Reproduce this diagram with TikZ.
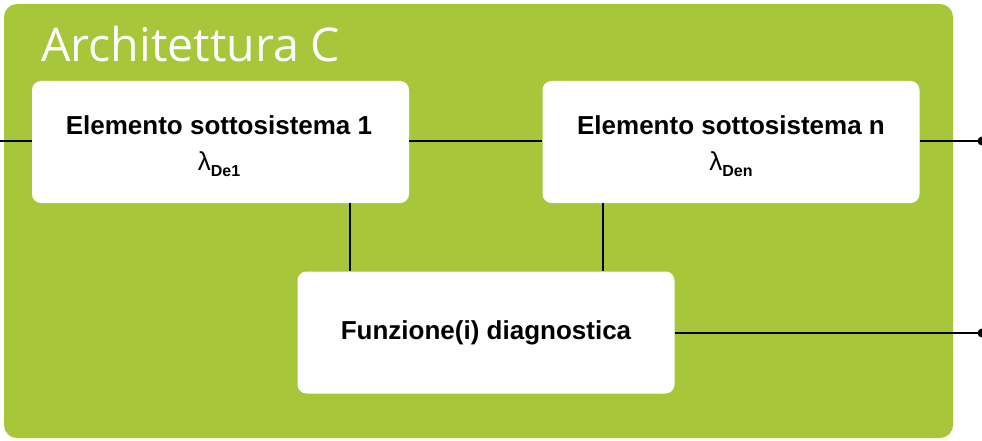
\documentclass[tikz,border=0pt]{standalone}
\usepackage{fontspec}
\setmainfont{Liberation Sans}
\newfontfamily\titlefont{Open Sans}
\definecolor{archgreen}{HTML}{A8C63A}
\begin{document}
\begin{tikzpicture}[x=1pt,y=-1pt,
  wbox/.style={fill=white, rounded corners=9pt, draw=none, minimum width=377pt, minimum height=122pt, inner sep=0pt},
  conn/.style={line width=2.6pt, black},
  enddot/.style={circle, fill=black, inner sep=0pt, minimum size=9pt}]
\useasboundingbox (0,0) rectangle (982,441);
\fill[archgreen, rounded corners=13pt] (4,4) rectangle (953,438);
\node[anchor=base west, text=white, font=\titlefont\fontsize{46.5}{50}\selectfont, inner sep=0pt] (title) at (41,62) {Architettura C};
\node[wbox] (b1) at (220.5,142) {};
\node[wbox] (bn) at (731,142) {};
\node[wbox] (bd) at (486,332.5) {};
\node[font=\bfseries\fontsize{26}{30}\selectfont, inner sep=0pt] (t1) at (219,125) {Elemento sottosistema 1};
\node[font=\fontsize{26}{30}\selectfont, inner sep=0pt] (l1) at (219,164) {λ\raisebox{-6pt}{\bfseries\fontsize{16}{18}\selectfont De1}};
\node[font=\bfseries\fontsize{26}{30}\selectfont, inner sep=0pt] (tn) at (731,125) {Elemento sottosistema n};
\node[font=\fontsize{26}{30}\selectfont, inner sep=0pt] (ln) at (731,164) {λ\raisebox{-6pt}{\bfseries\fontsize{16}{18}\selectfont Den}};
\node[font=\bfseries\fontsize{26}{30}\selectfont, inner sep=0pt] (td) at (486,333) {Funzione(i) diagnostica};
\coordinate (lin) at (0,141);
\node[enddot] (o1) at (982,141) {};
\node[enddot] (o2) at (982,333) {};
\draw[conn] (lin) -- (b1.west |- lin);
\draw[conn] (b1.east |- lin) -- (bn.west |- lin);
\draw[conn] (bn.east |- lin) -- (o1.center);
\draw[conn] (350,203) -- (350,271);
\draw[conn] (603,203) -- (603,271);
\draw[conn] (bd.east |- o2) -- (o2.center);
\end{tikzpicture}
\end{document}
